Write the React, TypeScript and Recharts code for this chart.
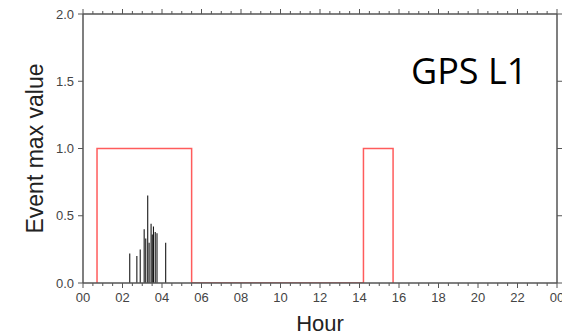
import { ComposedChart, Bar, Line, XAxis, YAxis, Label } from 'recharts';

// event bars (hour, max value)
const barHours = [2.37, 2.73, 2.9, 3.1, 3.18, 3.28, 3.35, 3.45, 3.51, 3.57, 3.66, 3.75, 4.19];
const barValues = [0.22, 0.2, 0.25, 0.4, 0.33, 0.65, 0.3, 0.44, 0.36, 0.42, 0.38, 0.37, 0.3];

// red on/off step trace
const stepHours = [0.71, 0.71, 5.5, 5.5, 14.2, 14.2, 15.7, 15.7];
const stepValues = [0, 1, 1, 0, 0, 1, 1, 0];

const hourLabels = ['00', '02', '04', '06', '08', '10', '12', '14', '16', '18', '20', '22', '00'];
const yTicks = [0, 0.5, 1, 1.5, 2];
const yLabels = ['0.0', '0.5', '1.0', '1.5', '2.0'];
const xTicks = Array.from({ length: 49 }, (_, i) => i / 2);

const barData = barHours.map((h, i) => ({ h, v: barValues[i] }));
const stepData = stepHours.map((h, i) => ({ h, s: stepValues[i] }));

const AXIS = '#555';
const FONT = '"Liberation Sans", Arial, sans-serif';

const isMajor = (v: number) => Math.abs(v / 2 - Math.round(v / 2)) < 1e-6;

const BottomTick = ({ x, y, payload }: any) => {
  const v = payload.value;
  const major = isMajor(v);
  return (
    <g>
      <line x1={x} x2={x} y1={y} y2={y + (major ? 5 : 3)} stroke={AXIS} />
      {major && (
        <text x={x} y={y + 19} textAnchor="middle" fontSize={13} fill="#444" fontFamily={FONT}>
          {hourLabels[Math.round(v / 2)]}
        </text>
      )}
    </g>
  );
};

const TopTick = ({ x, y, payload }: any) => {
  const major = isMajor(payload.value);
  return <line x1={x} x2={x} y1={y} y2={y - (major ? 5 : 3)} stroke={AXIS} />;
};

const LeftTick = ({ x, y, payload }: any) => {
  const i = yTicks.indexOf(payload.value);
  return (
    <g>
      <line x1={x - 5} x2={x} y1={y} y2={y} stroke={AXIS} />
      <text x={x - 9} y={y + 4.5} textAnchor="end" fontSize={13} fill="#444" fontFamily={FONT}>
        {yLabels[i]}
      </text>
    </g>
  );
};

const RightTick = ({ x, y }: any) => <line x1={x} x2={x + 5} y1={y} y2={y} stroke={AXIS} />;

export default function App() {
  return (
    <div style={{ position: 'absolute', left: 0, top: 0, width: 562, height: 335, background: '#fff' }}>
      <ComposedChart
        width={562}
        height={335}
        data={barData}
        margin={{ top: 13, right: 4, bottom: 0, left: 0 }}
      >
        <XAxis
          xAxisId="b"
          dataKey="h"
          type="number"
          domain={[0, 24]}
          ticks={xTicks}
          interval={0}
          allowDataOverflow
          height={52}
          tickSize={0}
          tickMargin={0}
          tickLine={false}
          tick={<BottomTick />}
          axisLine={{ stroke: AXIS, strokeWidth: 1.5 }}
        >
          <Label
            value="Hour"
            position="insideBottom"
            offset={4}
            style={{ fontSize: 22, fill: '#222', fontFamily: FONT }}
          />
        </XAxis>
        <XAxis
          xAxisId="t"
          orientation="top"
          dataKey="h"
          type="number"
          domain={[0, 24]}
          ticks={xTicks}
          interval={0}
          allowDataOverflow
          height={1}
          tickSize={0}
          tickMargin={0}
          tickLine={false}
          tick={<TopTick />}
          axisLine={{ stroke: AXIS, strokeWidth: 1.5 }}
        />
        <YAxis
          yAxisId="l"
          domain={[0, 2]}
          ticks={yTicks}
          interval={0}
          allowDataOverflow
          width={83}
          tickSize={0}
          tickMargin={0}
          tickLine={false}
          tick={<LeftTick />}
          axisLine={{ stroke: AXIS, strokeWidth: 1.5 }}
        >
          <Label
            content={({ viewBox }: any) => {
              const cy = viewBox.y + viewBox.height / 2;
              return (
                <text
                  x={35}
                  y={cy}
                  transform={`rotate(-90 35 ${cy})`}
                  textAnchor="middle"
                  dominantBaseline="central"
                  fontSize={23}
                  fill="#222"
                  fontFamily={FONT}
                >
                  Event max value
                </text>
              );
            }}
          />
        </YAxis>
        <YAxis
          yAxisId="r"
          orientation="right"
          domain={[0, 2]}
          ticks={yTicks}
          interval={0}
          allowDataOverflow
          width={1}
          tickSize={0}
          tickMargin={0}
          tickLine={false}
          tick={<RightTick />}
          axisLine={{ stroke: AXIS, strokeWidth: 1.5 }}
        />
        <Bar
          xAxisId="b"
          yAxisId="l"
          dataKey="v"
          barSize={2}
          fill="#111"
          isAnimationActive={false}
        />
        <Line
          xAxisId="b"
          yAxisId="l"
          data={stepData}
          dataKey="s"
          type="linear"
          stroke="#ff5c5c"
          strokeWidth={1.5}
          dot={false}
          activeDot={false}
          isAnimationActive={false}
        />
      </ComposedChart>
      <div
        style={{
          position: 'absolute',
          left: 411,
          top: 46,
          fontFamily: '"Open Sans", sans-serif',
          fontSize: 36,
          lineHeight: '50px',
          color: '#000',
          whiteSpace: 'nowrap',
        }}
      >
        GPS L1
      </div>
    </div>
  );
}
